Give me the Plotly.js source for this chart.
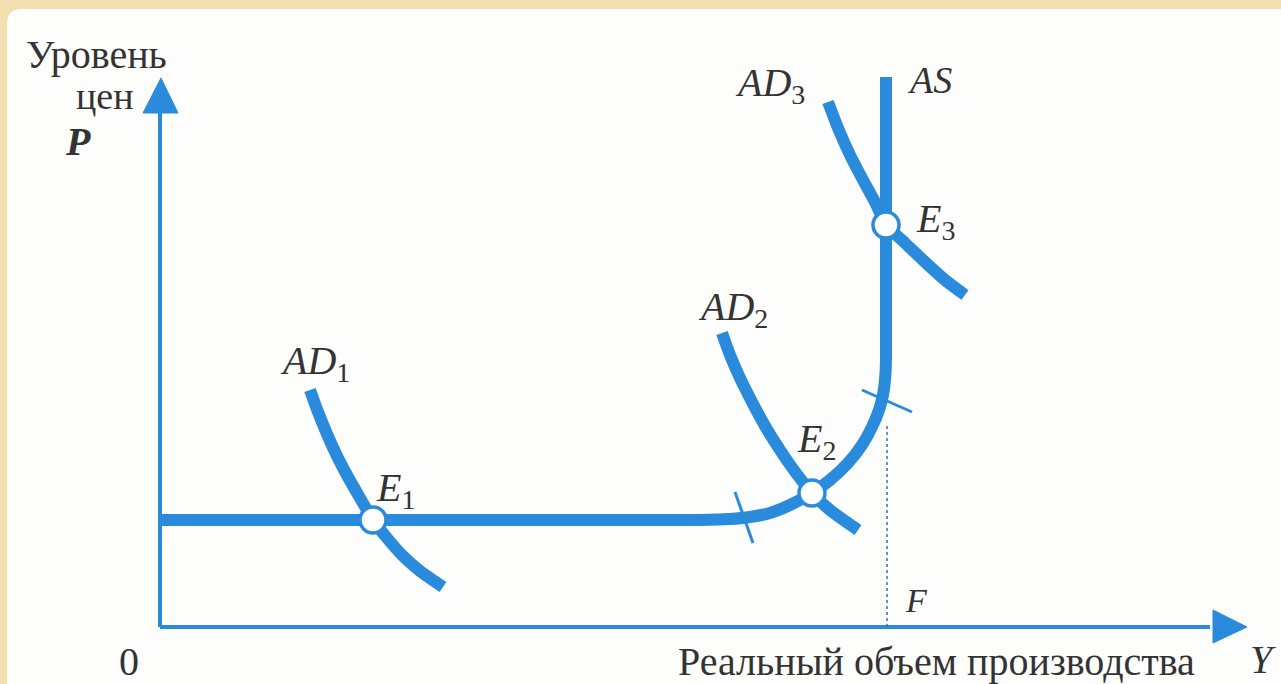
<!DOCTYPE html>
<html>
<head>
<meta charset="utf-8">
<script src="https://cdn.plot.ly/plotly-3.0.1.min.js"></script>
<style>
  html, body { margin: 0; padding: 0; }
  #chart { width: 1281px; height: 684px; }
</style>
</head>
<body>
<div id="chart"></div>
<script>
// aggregate supply curve (Y, P)
const asY = [0, 54, 57, 59, 61, 63, 65.2, 67, 68.8, 70.2, 71.2, 71.9, 72.3, 72.5, 72.6, 72.6];
const asP = [10.7, 10.7, 10.8, 11, 11.4, 12.2, 13.4, 14.7, 16.4, 18.2, 20, 21.7, 23.2, 24.7, 26.7, 55];

// aggregate demand curves
const ad1Y = [15, 15.8, 16.7, 17.7, 18.8, 20, 21.3, 22.7, 24.2, 26, 28.3];
const ad1P = [23.7, 21.5, 19.3, 17.1, 15, 12.9, 10.7, 8.9, 7.2, 5.6, 4];
const ad2Y = [56.2, 57, 58, 59.2, 60.5, 62, 63.6, 65.2, 67, 69.8];
const ad2P = [29.4, 27.2, 24.9, 22.5, 20.1, 17.7, 15.4, 13.4, 11.7, 9.7];
const ad3Y = [66.8, 67.8, 69, 70.3, 71.6, 72.6, 74.5, 76.5, 78.5, 80.5];
const ad3P = [52.5, 49.9, 47.2, 44.7, 42.3, 40.2, 38.4, 36.5, 34.7, 33.2];

// equilibrium points
const eqY = [21.3, 65.2, 72.6];
const eqP = [10.7, 13.4, 40.2];

// segment boundary ticks on AS
const tick1Y = [57.5, 59.3];
const tick1P = [13.5, 8.4];
const tick2Y = [70.2, 75.2];
const tick2P = [23.7, 21.5];

// full-employment output F
const fY = [72.7, 72.7];
const fP = [0, 20.2];

// axes
const axisXY = [0, 105];
const axisXP = [0, 0];
const axisYY = [0, 0];
const axisYP = [0, 52];
const arrowXY = [105.3, 108.7, 105.3, 105.3];
const arrowXP = [1.7, 0, -1.6, 1.7];
const arrowYY = [-1.7, 0.1, 1.8, -1.7];
const arrowYP = [51.4, 54.9, 51.4, 51.4];

const blue = "#2a8bdc";
const serif = "'Liberation Serif', 'Times New Roman', serif";

function line(x, y, width, extra) {
  return Object.assign({
    x, y,
    type: "scatter",
    mode: "lines",
    line: { color: blue, width },
    hoverinfo: "skip",
    showlegend: false,
  }, extra || {});
}

const curve = { color: blue, width: 12, shape: "spline", smoothing: 0.6 };

const data = [
  line(axisXY, axisXP, 4),
  line(axisYY, axisYP, 4),
  line(arrowXY, arrowXP, 1, { fill: "toself", fillcolor: blue }),
  line(arrowYY, arrowYP, 1, { fill: "toself", fillcolor: blue }),
  line(fY, fP, 1.5, { line: { color: "#40709c", width: 1.5, dash: "dot" } }),
  line(asY, asP, 12, { line: curve }),
  line(ad1Y, ad1P, 12, { line: curve }),
  line(ad2Y, ad2P, 12, { line: curve }),
  line(ad3Y, ad3P, 12, { line: curve }),
  line(tick1Y, tick1P, 3),
  line(tick2Y, tick2P, 3),
  {
    x: eqY,
    y: eqP,
    type: "scatter",
    mode: "markers",
    marker: { size: 26, color: "#ffffff", line: { color: blue, width: 3.5 } },
    hoverinfo: "skip",
    showlegend: false,
  },
];

function label(text, x, y, size, anchor) {
  return {
    text, x, y,
    xref: "x", yref: "y",
    showarrow: false,
    xanchor: anchor || "left",
    yanchor: "middle",
    font: { family: serif, size, color: "#333333" },
  };
}

// italic name with subscript index
function sub(name, idx) {
  return "<i>" + name + "</i><sub>" + idx + "</sub>";
}

const layout = {
  width: 1281,
  height: 684,
  margin: { l: 0, r: 0, t: 0, b: 0 },
  font: { family: serif, color: "#333333" },
  paper_bgcolor: "#f1dfb0",
  plot_bgcolor: "rgba(0,0,0,0)",
  xaxis: { range: [-16, 112.1], visible: false, fixedrange: true },
  yaxis: { range: [-5.7, 62.7], visible: false, fixedrange: true },
  shapes: [
    {
      type: "path",
      xref: "x", yref: "y",
      path: "M -15.3,-6 L -15.3,60.3 Q -15.3,61.8 -13.8,61.8 L 113,61.8 L 113,-6 Z",
      fillcolor: "#fdfdfb",
      line: { width: 0 },
      layer: "below",
    },
  ],
  annotations: [
    label("Уровень", -6.4, 57.3, 40, "center"),
    label("цен", -5.5, 53.1, 38, "center"),
    label("<b><i>P</i></b>", -8.2, 48.6, 40, "center"),
    label("0", -3.1, -3.4, 40, "center"),
    label("Реальный объем производства", 77.6, -3.4, 40, "center"),
    label("<i>Y</i>", 110.3, -3.2, 40, "center"),
    label("<i>F</i>", 75.6, 2.7, 34, "center"),
    label(sub("AD", "1"), 11.8, 26.4, 40),
    label(sub("E", "1"), 21.4, 13.7, 40),
    label(sub("AD", "2"), 53.6, 31.8, 40),
    label(sub("E", "2"), 63.5, 18.6, 40),
    label(sub("AD", "3"), 57.3, 54.2, 40),
    label("<i>AS</i>", 74.5, 54.7, 38),
    label(sub("E", "3"), 75.4, 40.6, 40),
  ],
};

const config = {
  responsive: false,
  displayModeBar: false,
};

Plotly.newPlot("chart", data, layout, config);
</script>
</body>
</html>
